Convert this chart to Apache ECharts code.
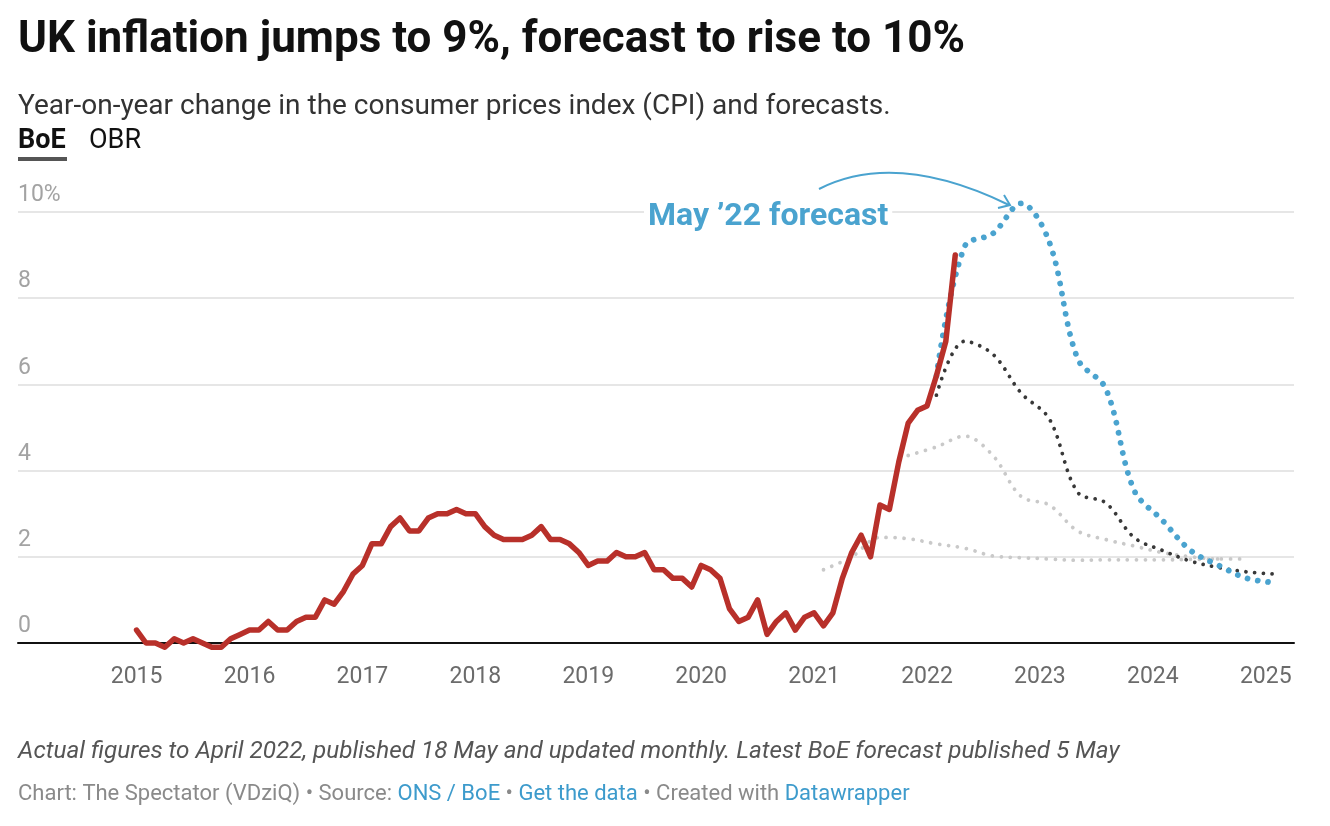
<!DOCTYPE html>
<html><head><meta charset="utf-8">
<script src="https://cdn.jsdelivr.net/npm/echarts@6/dist/echarts.min.js"></script>
<style>html,body{margin:0;padding:0;background:#fff}#c{width:1330px;height:826px}</style>
</head><body><div id="c"></div>
<script>
// ---- data ----
const actualStart = [2015, 1]; // Jan 2015, monthly
const actualCPI = [
  0.3, 0.0, 0.0, -0.1, 0.1, 0.0, 0.1, 0.0, -0.1, -0.1, 0.1, 0.2,
  0.3, 0.3, 0.5, 0.3, 0.3, 0.5, 0.6, 0.6, 1.0, 0.9, 1.2, 1.6,
  1.8, 2.3, 2.3, 2.7, 2.9, 2.6, 2.6, 2.9, 3.0, 3.0, 3.1, 3.0,
  3.0, 2.7, 2.5, 2.4, 2.4, 2.4, 2.5, 2.7, 2.4, 2.4, 2.3, 2.1,
  1.8, 1.9, 1.9, 2.1, 2.0, 2.0, 2.1, 1.7, 1.7, 1.5, 1.5, 1.3,
  1.8, 1.7, 1.5, 0.8, 0.5, 0.6, 1.0, 0.2, 0.5, 0.7, 0.3, 0.6,
  0.7, 0.4, 0.7, 1.5, 2.1, 2.5, 2.0, 3.2, 3.1, 4.2, 5.1, 5.4,
  5.5, 6.2, 7.0, 9.0
];
// BoE forecasts, quarterly (mid-quarter months)
const boeMay22Start = [2022, 2];
const boeMay22 = [6.2, 9.2, 9.5, 10.2, 9.3, 6.6, 5.9, 3.55, 2.85, 2.15, 1.8, 1.5, 1.4];
const boeFeb22Start = [2022, 2];
const boeFeb22 = [5.75, 7.0, 6.7, 5.8, 5.2, 3.5, 3.25, 2.45, 2.15, 1.9, 1.75, 1.65, 1.6];
const boeNov21Start = [2021, 11];
const boeNov21 = [4.35, 4.55, 4.8, 4.35, 3.4, 3.2, 2.6, 2.4, 2.25, 2.1, 2.0, 1.95, 1.95];
const boeFeb21Start = [2021, 2];
const boeFeb21 = [1.7, 2.0, 2.45, 2.42, 2.3, 2.2, 2.02, 1.98, 1.95, 1.92, 1.93, 1.93, 1.93, 1.94, 1.95];
const yearTicks = [2015, 2016, 2017, 2018, 2019, 2020, 2021, 2022, 2023, 2024, 2025];
const yTicks = [0, 2, 4, 6, 8, 10];

// ---- helpers ----
function toSeries(start, vals, stepMonths) {
  const base = start[0] + (start[1] - 1) / 12;
  return vals.map((v, i) => [base + i * stepMonths / 12, v]);
}

const FONT = 'Roboto, "Noto Sans", sans-serif';
const BLUE = '#4aa3cf';
const RED = '#b8302a';

const chart = echarts.init(document.getElementById('c'), null, {renderer: 'canvas'});
chart.setOption({
  animation: false,
  backgroundColor: '#fff',
  textStyle: {fontFamily: FONT},
  grid: {left: 18, right: 36, top: 212, bottom: 183, containLabel: false},
  xAxis: {
    type: 'value', min: 2013.95, max: 2025.25,
    axisLine: {show: true, onZero: true, lineStyle: {color: '#111', width: 2}},
    axisTick: {show: false},
    splitLine: {show: false},
    axisLabel: {
      customValues: yearTicks, margin: 23,
      fontFamily: FONT, fontSize: 23, color: '#6b6b6b',
      formatter: v => String(Math.round(v))
    }
  },
  yAxis: {
    type: 'value', min: 0, max: 10, interval: 2,
    axisLine: {show: false}, axisTick: {show: false},
    splitLine: {lineStyle: {color: '#e6e6e6', width: 2}},
    axisLabel: {
      inside: true, margin: 0, verticalAlign: 'bottom', align: 'left',
      padding: [0, 0, 5, 0],
      customValues: yTicks,
      fontFamily: FONT, fontSize: 23, color: '#a3a3a3',
      formatter: v => (v === 10 ? '10%' : String(v))
    }
  },
  series: [
    {type: 'line', name: 'BoE Feb 21', data: toSeries(boeFeb21Start, boeFeb21, 3), smooth: 0.35,
      showSymbol: false, clip: false, z: 2,
      lineStyle: {color: '#c9c9c9', width: 3.8, type: [0.01, 9], cap: 'round'}},
    {type: 'line', name: 'BoE Nov 21', data: toSeries(boeNov21Start, boeNov21, 3), smooth: 0.35,
      showSymbol: false, clip: false, z: 2,
      lineStyle: {color: '#c9c9c9', width: 3.8, type: [0.01, 9], cap: 'round'}},
    {type: 'line', name: 'BoE Feb 22', data: toSeries(boeFeb22Start, boeFeb22, 3), smooth: 0.35,
      showSymbol: false, clip: false, z: 3,
      lineStyle: {color: '#383838', width: 3.8, type: [0.01, 8.7], cap: 'round'}},
    {type: 'line', name: 'BoE May 22', data: toSeries(boeMay22Start, boeMay22, 3), smooth: 0.35,
      showSymbol: false, clip: false, z: 4,
      lineStyle: {color: BLUE, width: 5.8, type: [0.01, 10.3], cap: 'round'}},
    {type: 'line', name: 'CPI', data: toSeries(actualStart, actualCPI, 1),
      showSymbol: false, clip: false, z: 5,
      lineStyle: {color: RED, width: 5.5, join: 'round', cap: 'round'}}
  ],
  graphic: [
    {type: 'text', x: 18, y: 41, style: {text: 'UK inflation jumps to 9%, forecast to rise to 10%',
      font: 'bold 44px ' + FONT, fill: '#111', verticalAlign: 'middle'}},
    {type: 'text', x: 18, y: 107, style: {text: 'Year-on-year change in the consumer prices index (CPI) and forecasts.',
      font: '28px ' + FONT, fill: '#333', verticalAlign: 'middle'}},
    {type: 'text', x: 18, y: 141, style: {text: 'BoE', font: 'bold 27px ' + FONT, fill: '#111', verticalAlign: 'middle'}},
    {type: 'text', x: 89, y: 141, style: {text: 'OBR', font: '27px ' + FONT, fill: '#111', verticalAlign: 'middle'}},
    {type: 'rect', shape: {x: 18, y: 157, width: 49, height: 4}, style: {fill: '#555'}},
    {type: 'text', x: 644, y: 217, z: 10, style: {text: 'May \u201922 forecast', font: 'bold 32px ' + FONT, fill: BLUE,
      verticalAlign: 'middle', backgroundColor: '#fff', padding: [2, 4]}},
    {type: 'bezierCurve', z: 10, shape: {x1: 819, y1: 189, x2: 1009, y2: 205, cpx1: 896, cpy1: 150},
      style: {stroke: BLUE, lineWidth: 2, fill: null}},
    {type: 'polyline', z: 10, shape: {points: [[1004, 195], [1010, 205], [998, 208]]},
      style: {stroke: BLUE, lineWidth: 2, fill: null}},
    {type: 'text', x: 18, y: 752, style: {text: 'Actual figures to April 2022, published 18 May and updated monthly. Latest BoE forecast published 5 May',
      font: 'italic 24.3px ' + FONT, fill: '#555', verticalAlign: 'middle'}},
    {type: 'text', x: 18, y: 794, style: {
      text: '{g|Chart: The Spectator (VDziQ) \u2022 Source: }{b|ONS / BoE}{g| \u2022 }{b|Get the data}{g| \u2022 Created with }{b|Datawrapper}',
      font: '22px ' + FONT, verticalAlign: 'middle',
      rich: {g: {fill: '#8a8a8a', fontSize: 22, fontFamily: FONT},
             b: {fill: '#3d9bcc', fontSize: 22, fontFamily: FONT}}}}
  ]
});
</script>
</body></html>
